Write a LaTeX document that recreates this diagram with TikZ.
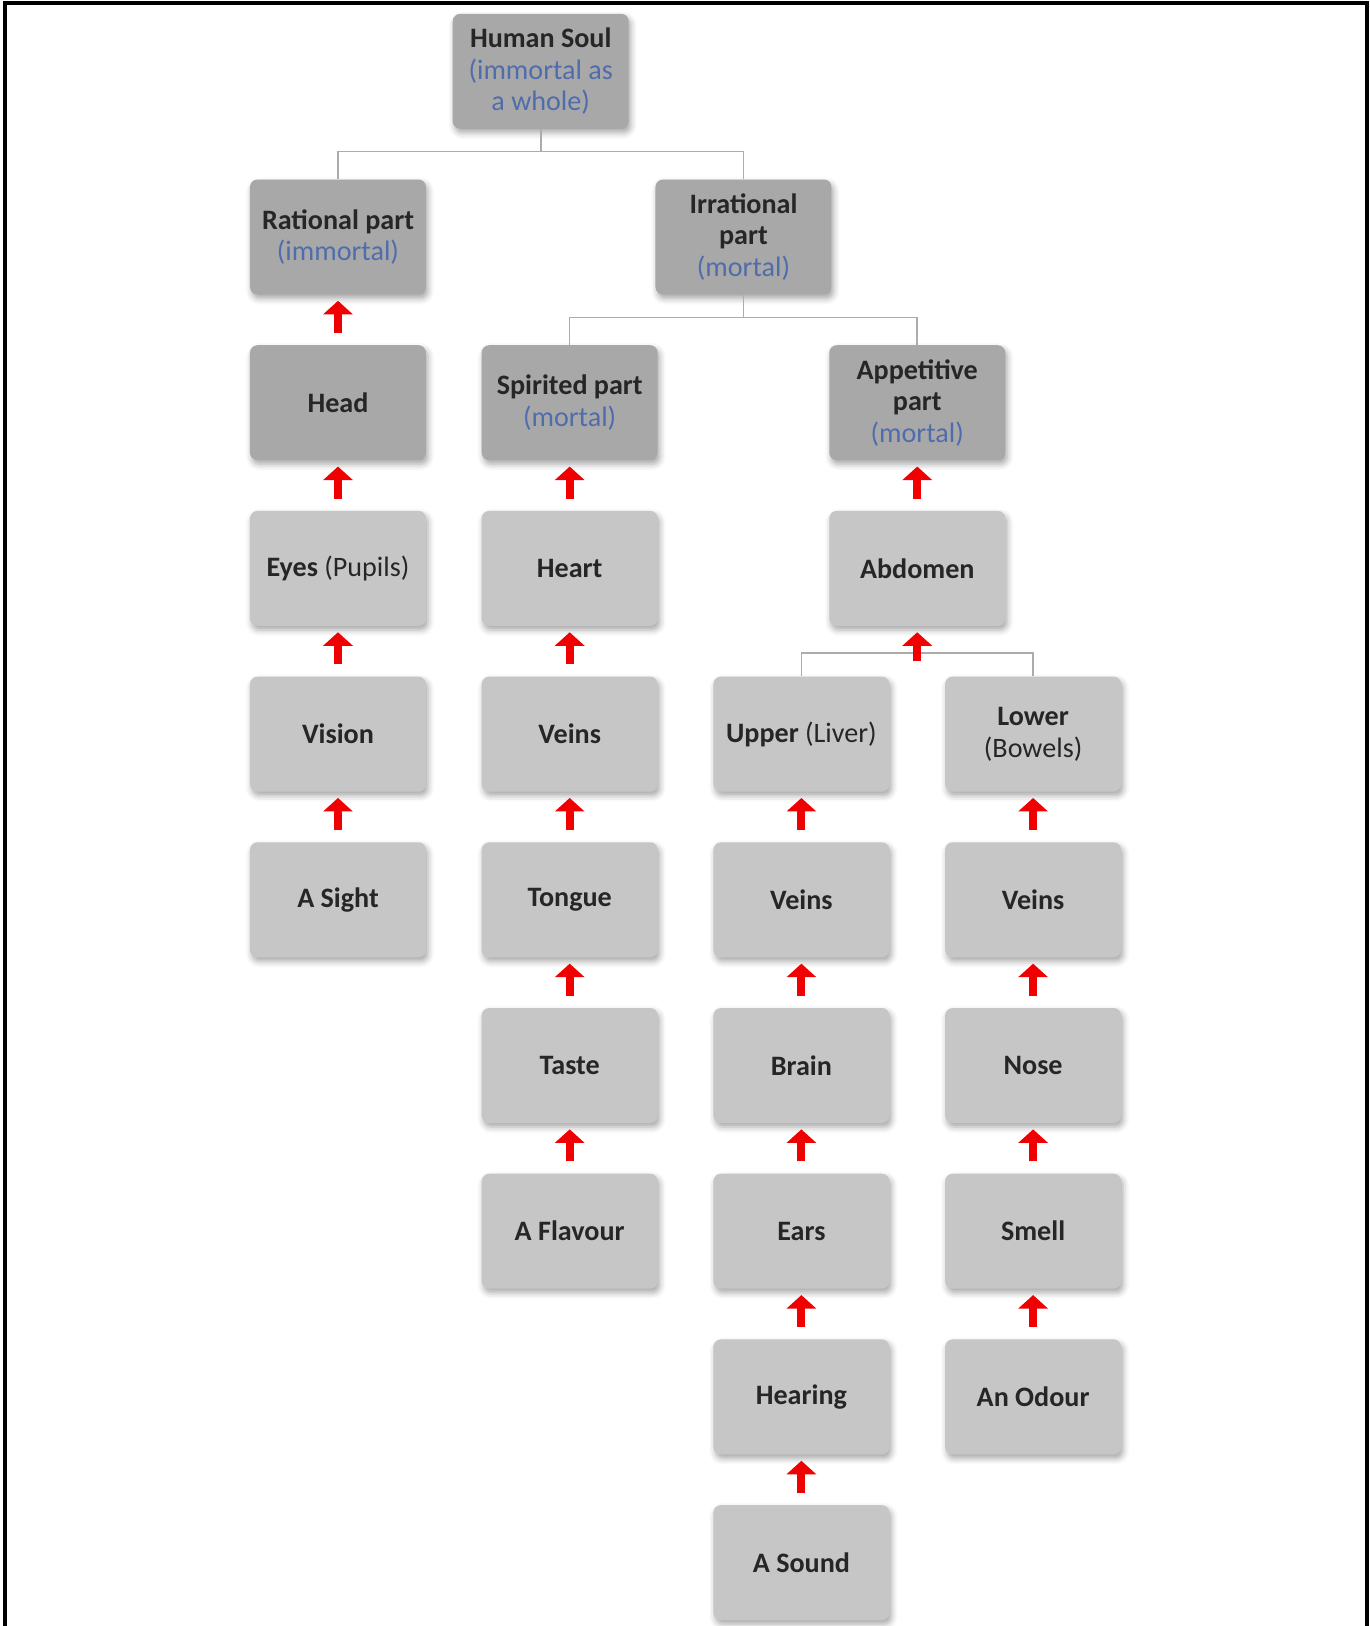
\documentclass[tikz,border=0pt]{standalone}
\usepackage{fontspec}
\setmainfont{Carlito}
\usetikzlibrary{positioning,calc,arrows.meta,shadows.blur}
\definecolor{boxdark}{RGB}{168,168,168}
\definecolor{boxlight}{RGB}{198,198,198}
\definecolor{noteblue}{RGB}{79,108,172}
\definecolor{upred}{RGB}{240,0,0}
\definecolor{treegray}{RGB}{172,172,172}
\tikzset{
  partbox/.style={rounded corners=0.15cm, minimum width=3.52cm, minimum height=2.3cm,
    align=center, text=black!85, font=\fontsize{16}{18}\selectfont\bfseries,
    blur shadow={shadow xshift=0.04cm, shadow yshift=-0.08cm, shadow opacity=35, shadow blur radius=0.12cm}},
  darkbox/.style={partbox, fill=boxdark},
  lightbox/.style={partbox, fill=boxlight},
  upflow/.style={upred, line width=4.5pt, -{Triangle[width=0.58cm,length=0.27cm]},
    shorten >=0.12cm, shorten <=0.24cm},
  treeline/.style={treegray, line width=0.9pt}
}
\newcommand{\soulnote}[1]{{\mdseries\color{noteblue}#1}}
\newcommand{\plainnote}[1]{{\mdseries #1}}
\begin{document}
\begin{tikzpicture}[node distance=1cm and 1.1cm]
  \useasboundingbox (-6.76,-27.78) rectangle (20.64,4.74);
  % frame, open at the bottom
  \draw[line width=0.08cm] (-6.66,-27.78) -- (-6.66,4.68) -- (20.57,4.68) -- (20.57,-27.78);

  % rational column
  \node[darkbox] (rational) at (0,0) {Rational part\\\soulnote{(immortal)}};
  \node[darkbox] (head) [below=of rational] {Head};
  \node[lightbox] (eyes) [below=of head] {Eyes \plainnote{(Pupils)}};
  \node[lightbox] (vision) [below=of eyes] {Vision};
  \node[lightbox] (sight) [below=of vision] {A Sight};

  % spirited column
  \node[darkbox] (spirited) [right=of head] {Spirited part\\\soulnote{(mortal)}};
  \node[lightbox] (heart) [below=of spirited] {Heart};
  \node[lightbox] (veinsA) [below=of heart] {Veins};
  \node[lightbox] (tongue) [below=of veinsA] {Tongue};
  \node[lightbox] (taste) [below=of tongue] {Taste};
  \node[lightbox] (flavour) [below=of taste] {A Flavour};

  % appetitive columns
  \node[lightbox] (upper) [right=of veinsA] {Upper \plainnote{(Liver)}};
  \node[lightbox] (veinsB) [below=of upper] {Veins};
  \node[lightbox] (brain) [below=of veinsB] {Brain};
  \node[lightbox] (ears) [below=of brain] {Ears};
  \node[lightbox] (hearing) [below=of ears] {Hearing};
  \node[lightbox] (sound) [below=of hearing] {A Sound};

  \node[lightbox] (lower) [right=of upper] {Lower\\\plainnote{(Bowels)}};
  \node[lightbox] (veinsC) [below=of lower] {Veins};
  \node[lightbox] (nose) [below=of veinsC] {Nose};
  \node[lightbox] (smell) [below=of nose] {Smell};
  \node[lightbox] (odour) [below=of smell] {An Odour};

  \coordinate (split) at ($(upper.north)!0.5!(lower.north)$);
  \node[lightbox] (abdomen) [above=of split] {Abdomen};
  \node[darkbox] (appetitive) [above=of abdomen] {Appetitive\\part\\\soulnote{(mortal)}};

  % top of the tree
  \node[darkbox] (irrational) [above=of $(spirited.north)!0.5!(appetitive.north)$] {Irrational\\part\\\soulnote{(mortal)}};
  \node[darkbox] (soul) [above=of $(rational.north)!0.5!(irrational.north)$] {Human Soul\\\soulnote{(immortal as}\\\soulnote{a whole)}};

  \draw[treeline] (soul.south) -- ++(0,-0.45) -| (rational.north);
  \draw[treeline] (soul.south) -- ++(0,-0.45) -| (irrational.north);
  \draw[treeline] (irrational.south) -- ++(0,-0.45) -| (spirited.north);
  \draw[treeline] (irrational.south) -- ++(0,-0.45) -| (appetitive.north);
  \draw[treeline] (upper.north) -- ++(0,0.46) -| (lower.north);

  % red arrows, pointing up
  \foreach \from/\to in {head/rational, eyes/head, vision/eyes, sight/vision,
      heart/spirited, veinsA/heart, tongue/veinsA, taste/tongue, flavour/taste,
      abdomen/appetitive, veinsB/upper, brain/veinsB, ears/brain, hearing/ears,
      sound/hearing, veinsC/lower, nose/veinsC, smell/nose, odour/smell}
    \draw[upflow] (\from) -- (\to);
  \draw[upflow, shorten <=0.3cm] (split) -- (abdomen);
\end{tikzpicture}
\end{document}
